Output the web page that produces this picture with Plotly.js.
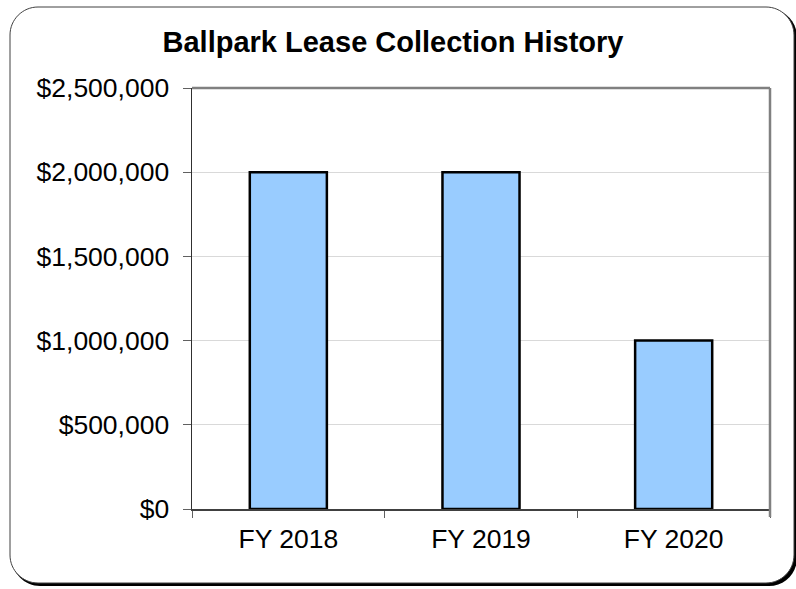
<!DOCTYPE html>
<html>
<head>
<meta charset="utf-8">
<script src="https://cdn.plot.ly/plotly-3.0.1.min.js"></script>
<style>
html,body{margin:0;padding:0;background:#fff;}
#chart{width:796px;height:589px;}
</style>
</head>
<body>
<div id="chart"></div>
<script>
const categories = ["FY 2018", "FY 2019", "FY 2020"];
const collections = [2000000, 2000000, 1000000];
const yTickValues = [0, 500000, 1000000, 1500000, 2000000, 2500000];

const W = 796, H = 589;
const M = {l: 192, r: 26, t: 88, b: 80};
const PW = W - M.l - M.r, PH = H - M.t - M.b;
function px(x){ return (x - M.l) / PW; }
function py(y){ return (H - M.b - y) / PH; }
function roundRect(x0, y0, x1, y1, r){
  const k = 0.5523 * r;
  const p = [];
  p.push('M' + px(x0 + r) + ',' + py(y0));
  p.push('L' + px(x1 - r) + ',' + py(y0));
  p.push('C' + px(x1 - r + k) + ',' + py(y0) + ' ' + px(x1) + ',' + py(y0 + r - k) + ' ' + px(x1) + ',' + py(y0 + r));
  p.push('L' + px(x1) + ',' + py(y1 - r));
  p.push('C' + px(x1) + ',' + py(y1 - r + k) + ' ' + px(x1 - r + k) + ',' + py(y1) + ' ' + px(x1 - r) + ',' + py(y1));
  p.push('L' + px(x0 + r) + ',' + py(y1));
  p.push('C' + px(x0 + r - k) + ',' + py(y1) + ' ' + px(x0) + ',' + py(y1 - r + k) + ' ' + px(x0) + ',' + py(y1 - r));
  p.push('L' + px(x0) + ',' + py(y0 + r));
  p.push('C' + px(x0) + ',' + py(y0 + r - k) + ' ' + px(x0 + r - k) + ',' + py(y0) + ' ' + px(x0 + r) + ',' + py(y0));
  p.push('Z');
  return p.join(' ');
}

const trace = {
  type: 'bar',
  x: categories,
  y: collections,
  marker: {color: '#99CCFF', line: {color: '#000000', width: 2.5}},
  width: 0.4,
  hoverinfo: 'skip'
};

const font = {family: '"Liberation Sans", Arial, sans-serif', color: '#000'};

const layout = {
  width: W, height: H,
  margin: M,
  paper_bgcolor: 'rgba(0,0,0,0)',
  plot_bgcolor: 'rgba(0,0,0,0)',
  showlegend: false,
  font: font,
  title: {
    text: '<b>Ballpark Lease Collection History</b>',
    font: {family: font.family, size: 29, color: '#000'},
    x: 393 / W, xref: 'container', xanchor: 'center',
    y: 1 - 42 / H, yref: 'container', yanchor: 'middle'
  },
  xaxis: {
    type: 'category',
    range: [-0.5, 2.5],
    showline: true, linecolor: '#404040', linewidth: 1.5,
    ticks: 'outside', tickson: 'boundaries', ticklen: 7, tickcolor: '#606060', tickwidth: 1,
    tickfont: {family: font.family, size: 26.5, color: '#000'},
    ticklabelstandoff: 6,
    showgrid: false, zeroline: false,
    fixedrange: true
  },
  yaxis: {
    range: [0, 2500000],
    tickvals: yTickValues,
    tickformat: '$,.0f',
    showline: true, linecolor: '#303030', linewidth: 1.5,
    ticks: 'outside', ticklen: 8, tickcolor: '#606060', tickwidth: 1,
    tickfont: {family: font.family, size: 26.5, color: '#000'},
    showgrid: true, gridcolor: '#d9d9d9', gridwidth: 1,
    zeroline: false,
    ticklabelstandoff: 8,
    fixedrange: true
  },
  shapes: [
    {type: 'path', xref: 'paper', yref: 'paper', layer: 'below',
     path: roundRect(12, 9, 797, 586, 28), fillcolor: '#000', line: {width: 0}},
    {type: 'path', xref: 'paper', yref: 'paper', layer: 'below',
     path: roundRect(10, 7, 794, 583, 28), fillcolor: '#ffffff', line: {color: '#404040', width: 1}},
    {type: 'line', xref: 'paper', yref: 'paper', x0: 0, x1: 1, y0: 1, y1: 1,
     line: {color: '#808080', width: 2.5}, layer: 'above'},
    {type: 'line', xref: 'paper', yref: 'paper', x0: 1, x1: 1, y0: -8/PH, y1: 1,
     line: {color: '#808080', width: 2.5}, layer: 'above'}
  ]
};

Plotly.newPlot('chart', [trace], layout, {displayModeBar: false, staticPlot: true});
</script>
</body>
</html>
